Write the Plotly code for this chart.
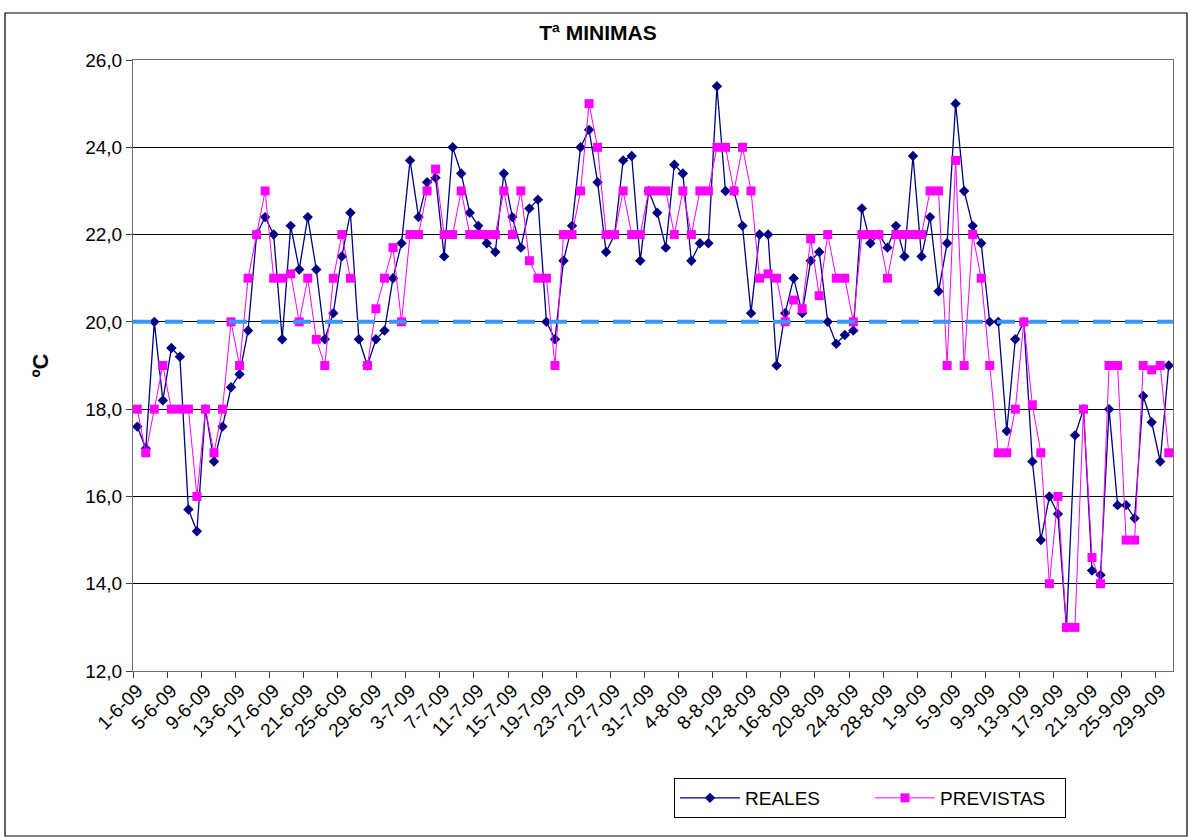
import plotly.graph_objects as go

TITLE = "Tª MINIMAS"
Y_TITLE = "ºC"
THRESHOLD = 20.0

TICK_LABELS = ["1-6-09", "5-6-09", "9-6-09", "13-6-09", "17-6-09", "21-6-09", "25-6-09",
               "29-6-09", "3-7-09", "7-7-09", "11-7-09", "15-7-09", "19-7-09", "23-7-09",
               "27-7-09", "31-7-09", "4-8-09", "8-8-09", "12-8-09", "16-8-09", "20-8-09",
               "24-8-09", "28-8-09", "1-9-09", "5-9-09", "9-9-09", "13-9-09", "17-9-09",
               "21-9-09", "25-9-09", "29-9-09"]

REALES = [17.6, 17.1, 20.0, 18.2, 19.4, 19.2, 15.7, 15.2, 18.0, 16.8,
          17.6, 18.5, 18.8, 19.8, 22.0, 22.4, 22.0, 19.6, 22.2, 21.2,
          22.4, 21.2, 19.6, 20.2, 21.5, 22.5, 19.6, 19.0, 19.6, 19.8,
          21.0, 21.8, 23.7, 22.4, 23.2, 23.3, 21.5, 24.0, 23.4, 22.5,
          22.2, 21.8, 21.6, 23.4, 22.4, 21.7, 22.6, 22.8, 20.0, 19.6,
          21.4, 22.2, 24.0, 24.4, 23.2, 21.6, 22.0, 23.7, 23.8, 21.4,
          23.0, 22.5, 21.7, 23.6, 23.4, 21.4, 21.8, 21.8, 25.4, 23.0,
          23.0, 22.2, 20.2, 22.0, 22.0, 19.0, 20.2, 21.0, 20.2, 21.4,
          21.6, 20.0, 19.5, 19.7, 19.8, 22.6, 21.8, 22.0, 21.7, 22.2,
          21.5, 23.8, 21.5, 22.4, 20.7, 21.8, 25.0, 23.0, 22.2, 21.8,
          20.0, 20.0, 17.5, 19.6, 20.0, 16.8, 15.0, 16.0, 15.6, 13.0,
          17.4, 18.0, 14.3, 14.2, 18.0, 15.8, 15.8, 15.5, 18.3, 17.7,
          16.8, 19.0]

PREVISTAS = [18.0, 17.0, 18.0, 19.0, 18.0, 18.0, 18.0, 16.0, 18.0, 17.0,
             18.0, 20.0, 19.0, 21.0, 22.0, 23.0, 21.0, 21.0, 21.1, 20.0,
             21.0, 19.6, 19.0, 21.0, 22.0, 21.0, None, 19.0, 20.3, 21.0,
             21.7, 20.0, 22.0, 22.0, 23.0, 23.5, 22.0, 22.0, 23.0, 22.0,
             22.0, 22.0, 22.0, 23.0, 22.0, 23.0, 21.4, 21.0, 21.0, 19.0,
             22.0, 22.0, 23.0, 25.0, 24.0, 22.0, 22.0, 23.0, 22.0, 22.0,
             23.0, 23.0, 23.0, 22.0, 23.0, 22.0, 23.0, 23.0, 24.0, 24.0,
             23.0, 24.0, 23.0, 21.0, 21.1, 21.0, 20.0, 20.5, 20.3, 21.9,
             20.6, 22.0, 21.0, 21.0, 20.0, 22.0, 22.0, 22.0, 21.0, 22.0,
             22.0, 22.0, 22.0, 23.0, 23.0, 19.0, 23.7, 19.0, 22.0, 21.0,
             19.0, 17.0, 17.0, 18.0, 20.0, 18.1, 17.0, 14.0, 16.0, 13.0,
             13.0, 18.0, 14.6, 14.0, 19.0, 19.0, 15.0, 15.0, 19.0, 18.9,
             19.0, 17.0]

FONT = "Liberation Sans, Arial, sans-serif"
x_idx = list(range(len(REALES)))
tick_pos = x_idx[::4][:len(TICK_LABELS)]

fig = go.Figure()
fig.add_trace(go.Scatter(
    x=x_idx, y=REALES, name="REALES", mode="lines+markers",
    line=dict(color="#000080", width=1.3),
    marker=dict(symbol="diamond", size=8, color="#000080"),
    legendrank=1,
))
fig.add_trace(go.Scatter(
    x=x_idx, y=PREVISTAS, name="PREVISTAS", mode="lines+markers",
    line=dict(color="#FF00FF", width=1), connectgaps=False,
    marker=dict(symbol="square", size=9, color="#FF00FF"),
    legendrank=2,
))

fig.add_shape(type="line", xref="paper", yref="y", x0=0, x1=1,
              y0=THRESHOLD, y1=THRESHOLD, layer="above",
              line=dict(color="#3399FF", width=4, dash="18px,14px"))

# outer chart border
W, H = 1190, 838
L, R, T, B = 133, 17, 60, 167
pw, ph = W - L - R, H - T - B
fig.add_shape(type="rect", xref="paper", yref="paper",
              x0=(5 - L) / pw, x1=(1187 - L) / pw,
              y0=(H - B - 836) / ph, y1=(H - B - 13) / ph,
              line=dict(color="black", width=1.2), layer="below")

fig.update_layout(
    width=W, height=H,
    margin=dict(l=L, r=R, t=T, b=B, autoexpand=False),
    paper_bgcolor="white", plot_bgcolor="white",
    separators=",.",
    font=dict(family=FONT, color="black", size=19),
    title=dict(text="<b>" + TITLE + "</b>", x=598 / W, xanchor="center",
               y=1 - 33 / H, yanchor="middle",
               font=dict(family=FONT, size=21, color="black")),
    showlegend=True,
    legend=dict(orientation="h", xref="paper", yref="paper",
                x=(870 - L) / pw, xanchor="center",
                y=-(778 - (H - B)) / ph, yanchor="top",
                bordercolor="black", borderwidth=1, bgcolor="white",
                font=dict(family=FONT, size=19, color="black"),
                itemwidth=60, traceorder="normal",
                entrywidth=120, entrywidthmode="pixels"),
)

fig.update_xaxes(
    range=[-0.5, len(REALES) - 0.5],
    tickmode="array", tickvals=tick_pos, ticktext=TICK_LABELS,
    tickangle=-45, ticks="", showgrid=False, zeroline=False,
    showline=True, linecolor="#707070", linewidth=1, mirror=True,
    tickfont=dict(family=FONT, size=19, color="black"),
    minor=dict(tick0=-0.5, dtick=4, ticks="outside", ticklen=6,
               tickcolor="#404040", showgrid=False),
)
fig.update_yaxes(
    range=[12, 26], dtick=2, tick0=12, tickformat=".1f",
    ticks="outside", ticklen=6, tickcolor="#404040",
    showgrid=True, gridcolor="black", gridwidth=1, zeroline=False,
    showline=True, linecolor="#707070", linewidth=1, mirror=True,
    tickfont=dict(family=FONT, size=19, color="black"),
    title=dict(text="<b>" + Y_TITLE + "</b>", standoff=30,
               font=dict(family=FONT, size=22, color="black")),
)

fig.write_html("out.html", config={"displayModeBar": False},
               post_script="document.body.style.margin='0px';")
